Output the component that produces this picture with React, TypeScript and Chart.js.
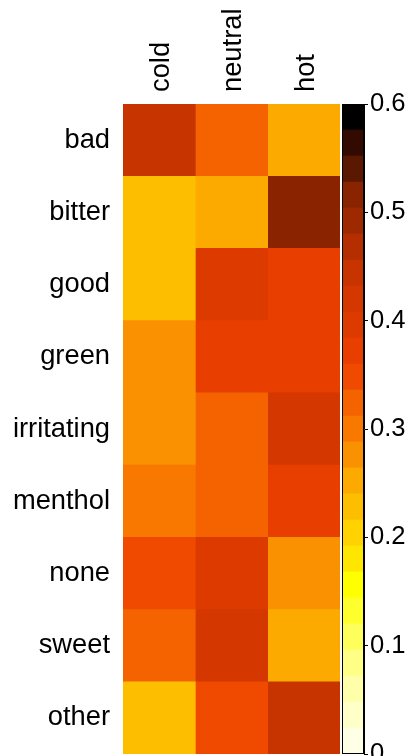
import React, { useEffect, useRef } from 'react';
import { Chart, registerables } from 'chart.js';

Chart.register(...registerables);

const ROWS = ['bad', 'bitter', 'good', 'green', 'irritating', 'menthol', 'none', 'sweet', 'other'];
const COLS = ['cold', 'neutral', 'hot'];
const COLD = [0.444, 0.228, 0.228, 0.276, 0.276, 0.3, 0.348, 0.324, 0.228];
const NEUTRAL = [0.324, 0.252, 0.396, 0.372, 0.324, 0.324, 0.396, 0.42, 0.348];
const HOT = [0.252, 0.516, 0.372, 0.372, 0.42, 0.372, 0.276, 0.252, 0.444];
const SERIES = [COLD, NEUTRAL, HOT];

const CBAR_MIN = 0;
const CBAR_MAX = 0.6;
const CBAR_STEP = 0.1;
// reversed "hot" colormap, low -> high
const COLORMAP = [
  '#FFFFE6', '#FFFFC8', '#FFFFAA', '#FFFF85', '#FFFF5C', '#FFFF2E', '#FFFF00',
  '#FFE600', '#FFD200', '#FEBE00', '#FCAA00', '#FA9100', '#F87800', '#F56300',
  '#F04A00', '#E83E00', '#DD3A00', '#D43700', '#C83400', '#B42E00', '#9E2900',
  '#8A2400', '#5A1800', '#320A00', '#000000',
];

const FAMILY = '"Liberation Sans", Arial, Helvetica, sans-serif';
const LABEL_FONT = { family: FAMILY, size: 27.3 };
const CBAR_FONT = { family: FAMILY, size: 25.6 };

function colorFor(v: number): string {
  const n = COLORMAP.length;
  const idx = Math.floor(((v - CBAR_MIN) / (CBAR_MAX - CBAR_MIN)) * n);
  return COLORMAP[Math.max(0, Math.min(n - 1, idx))];
}

function edge(i: number): number {
  return CBAR_MIN + ((CBAR_MAX - CBAR_MIN) * i) / COLORMAP.length;
}

const frame = {
  id: 'frame',
  afterDatasetsDraw(chart: any) {
    const { ctx, chartArea: a } = chart;
    ctx.save();
    ctx.strokeStyle = '#000';
    ctx.lineWidth = 1;
    ctx.strokeRect(Math.round(a.left) + 0.5, Math.round(a.top) + 0.5, Math.round(a.right - a.left) - 1, Math.round(a.bottom - a.top) - 1);
    ctx.restore();
  },
};

export default function App() {
  const heatRef = useRef<HTMLCanvasElement>(null);
  const barRef = useRef<HTMLCanvasElement>(null);

  useEffect(() => {
    document.body.style.margin = '0';
    const heat = new Chart(heatRef.current!, {
      type: 'bar',
      data: {
        labels: ROWS,
        datasets: COLS.map((c, ci) => ({
          label: c,
          data: ROWS.map(() => [ci, ci + 1]),
          backgroundColor: SERIES[ci].map(colorFor),
          borderWidth: 0,
          barPercentage: 1,
          categoryPercentage: 1,
          grouped: false,
        })) as any,
      },
      options: {
        indexAxis: 'y',
        responsive: false,
        maintainAspectRatio: false,
        animation: false,
        layout: { padding: 0 },
        plugins: { legend: { display: false }, tooltip: { enabled: false } },
        scales: {
          x: {
            type: 'linear',
            position: 'top',
            min: 0,
            max: COLS.length,
            grid: { display: false, drawTicks: false },
            border: { display: false },
            afterBuildTicks: (s: any) => {
              s.ticks = COLS.map((_, i) => ({ value: i + 0.5 }));
            },
            afterFit: (s: any) => {
              s.height = 104;
              s.paddingLeft = 0;
              s.paddingRight = 0;
            },
            ticks: {
              autoSkip: false,
              minRotation: 90,
              maxRotation: 90,
              padding: 12,
              labelOffset: 35,
              color: '#000',
              font: LABEL_FONT,
              callback: (_v: any, i: number) => COLS[i],
            },
          },
          y: {
            type: 'category',
            position: 'left',
            grid: { display: false, drawTicks: false },
            border: { display: false },
            afterFit: (s: any) => {
              s.width = 123;
              s.paddingTop = 0;
              s.paddingBottom = 0;
            },
            ticks: { padding: 13, color: '#000', font: LABEL_FONT, autoSkip: false },
          },
        },
      } as any,
    });

    const bar = new Chart(barRef.current!, {
      type: 'bar',
      data: {
        labels: [''],
        datasets: COLORMAP.map((c, i) => ({
          data: [[edge(i), edge(i + 1)]],
          backgroundColor: c,
          borderWidth: 0,
          barPercentage: 1,
          categoryPercentage: 1,
          grouped: false,
        })) as any,
      },
      options: {
        responsive: false,
        maintainAspectRatio: false,
        animation: false,
        layout: { padding: { left: 6, top: 104, bottom: 2, right: 0 } },
        plugins: { legend: { display: false }, tooltip: { enabled: false } },
        scales: {
          x: { type: 'category', display: false },
          y: {
            type: 'linear',
            position: 'right',
            min: CBAR_MIN,
            max: CBAR_MAX,
            grid: { display: true, drawOnChartArea: false, drawTicks: true, tickLength: 4, color: '#000', lineWidth: 1 },
            border: { display: true, color: '#000', width: 1 },
            afterFit: (s: any) => {
              s.width = 48;
              s.paddingTop = 0;
              s.paddingBottom = 0;
            },
            ticks: {
              stepSize: CBAR_STEP,
              padding: 2,
              color: '#000',
              font: CBAR_FONT,
              callback: (v: any) => (Math.abs(v) < 1e-9 ? '0' : Number(v).toFixed(1)),
            },
          },
        },
      } as any,
      plugins: [frame],
    });

    return () => {
      heat.destroy();
      bar.destroy();
    };
  }, []);

  return (
    <div style={{ position: 'fixed', left: 0, top: 0, width: 412, height: 756, background: '#fff' }}>
      <canvas ref={heatRef} width={340} height={754} style={{ position: 'absolute', left: 0, top: 0, width: 340, height: 754 }} />
      <canvas ref={barRef} width={76} height={756} style={{ position: 'absolute', left: 336, top: 0, width: 76, height: 756 }} />
    </div>
  );
}
